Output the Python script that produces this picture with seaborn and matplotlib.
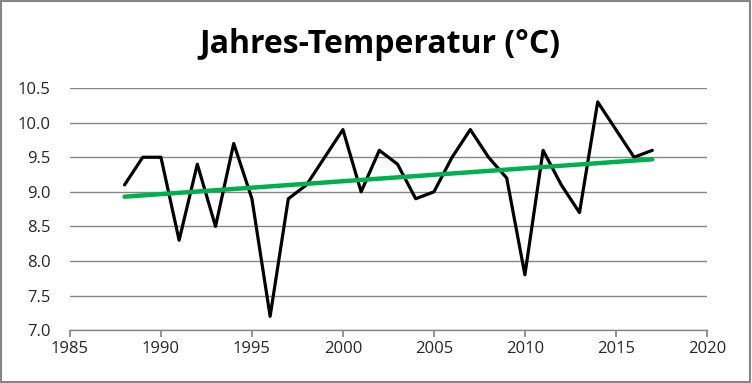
import numpy as np
import pandas as pd
import matplotlib
matplotlib.use("Agg")
import matplotlib.pyplot as plt
import seaborn as sns

years = list(range(1988, 2018))
temps = [9.1, 9.5, 9.5, 8.3, 9.4, 8.5, 9.7, 8.9, 7.2, 8.9,
         9.1, 9.5, 9.9, 9.0, 9.6, 9.4, 8.9, 9.0, 9.5, 9.9,
         9.5, 9.2, 7.8, 9.6, 9.1, 8.7, 10.3, 9.9, 9.5, 9.6]

df = pd.DataFrame({"Jahr": years, "Temperatur": temps})
slope, icpt = np.polyfit(df["Jahr"], df["Temperatur"], 1)
df["Trend"] = slope * df["Jahr"] + icpt

sns.set_theme(style="white")
plt.rcParams["font.family"] = ["Open Sans", "DejaVu Sans"]

fig = plt.figure(figsize=(7.52, 3.83), dpi=100)
ax = fig.add_axes([0.093, 0.138, 0.847, 0.632])

sns.lineplot(data=df, x="Jahr", y="Temperatur", color="black", linewidth=2.3, ax=ax)
sns.lineplot(data=df, x="Jahr", y="Trend", color="#00B050", linewidth=3.2, ax=ax)

ax.set_xlim(1985, 2020)
ax.set_ylim(7.0, 10.5)
ax.set_xticks(range(1985, 2021, 5))
ax.set_yticks(np.arange(7.0, 10.51, 0.5))
ax.set_yticklabels([f"{v:.1f}" for v in np.arange(7.0, 10.51, 0.5)])
ax.set_xlabel("")
ax.set_ylabel("")
ax.grid(axis="y", color="#868686", linewidth=1)
ax.set_axisbelow(True)
for s in ["top", "right", "left"]:
    ax.spines[s].set_visible(False)
ax.spines["bottom"].set_color("#868686")
ax.spines["bottom"].set_linewidth(1)
ax.tick_params(axis="x", bottom=True, direction="out", length=5, color="#868686",
               labelsize=12, labelcolor="#262626", pad=3)
ax.tick_params(axis="y", left=False, labelsize=12, labelcolor="#262626", pad=8)

fig.text(0.505, 0.885, "Jahres-Temperatur (°C)", ha="center", va="center",
         fontsize=23, fontweight="bold", color="black")

fig.patches.append(plt.Rectangle((0.001, 0.002), 0.997, 0.995, transform=fig.transFigure,
                                 fill=False, edgecolor="#868686", linewidth=1.5))

fig.savefig("out.png", dpi=100)
